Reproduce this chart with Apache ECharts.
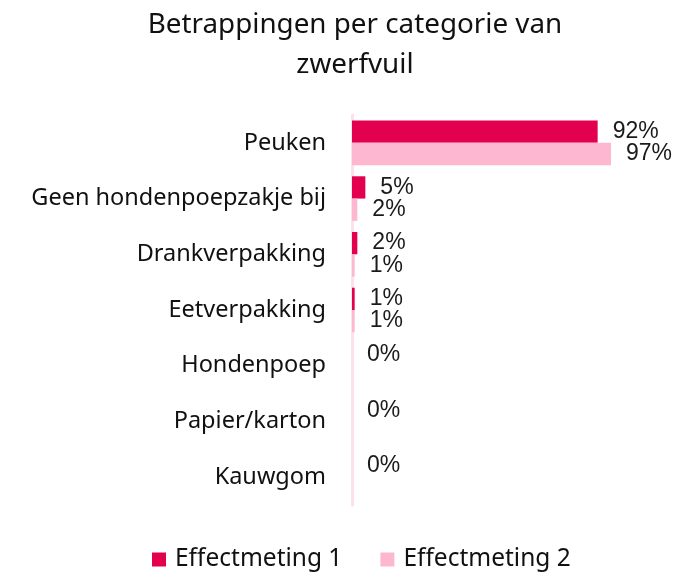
<!DOCTYPE html>
<html><head><meta charset="utf-8">
<script src="https://cdn.jsdelivr.net/npm/echarts@6/dist/echarts.min.js"></script>
<style>html,body{margin:0;padding:0;background:#fff}#c{width:693px;height:574px}</style>
</head><body><div id="c"></div>
<script>
const categories = ["Peuken","Geen hondenpoepzakje bij","Drankverpakking","Eetverpakking","Hondenpoep","Papier/karton","Kauwgom"];
const seriesNames = ["Effectmeting 1","Effectmeting 2"];
const meting1 = [92,5,2,1,0,0,0];
const meting2 = [97,2,1,1,null,null,null];
const colors = ["#e3004f","#fdb7d0"];
const titleText = "Betrappingen per categorie van\nzwerfvuil";

const chart = echarts.init(document.getElementById('c'));
const labelCfg = {show:true, position:'right', distance:15, formatter:'{c}%', color:'#1a1a1a', fontFamily:'Liberation Sans', fontSize:23};
chart.setOption({
  animation:false,
  title:{text:titleText, left:350, textAlign:'center', top:0, textStyle:{fontFamily:'Noto Sans', fontWeight:'normal', fontSize:27.8, color:'#111', lineHeight:40}},
  legend:{top:542, left:147, itemWidth:14, itemHeight:14, itemGap:38, icon:'rect',
    textStyle:{fontFamily:'Noto Sans', fontSize:24.5, color:'#111', padding:[0,0,0,4]}, data:seriesNames},
  grid:{left:352, right:74, top:115, bottom:69, containLabel:false},
  xAxis:{type:'value', min:0, max:100, show:false},
  yAxis:{type:'category', inverse:true, data:categories,
    axisLine:{show:true, lineStyle:{color:'#fde0ea', width:3}},
    axisTick:{show:false},
    axisLabel:{fontFamily:'Noto Sans', fontSize:23.5, color:'#111', margin:26}},
  series:[
    {name:seriesNames[0], type:'bar', data:meting1, itemStyle:{color:colors[0]}, barCategoryGap:'20%', barGap:'0%', label:labelCfg},
    {name:seriesNames[1], type:'bar', data:meting2, itemStyle:{color:colors[1]}, barCategoryGap:'20%', barGap:'0%', label:labelCfg}
  ]
});
</script></body></html>
